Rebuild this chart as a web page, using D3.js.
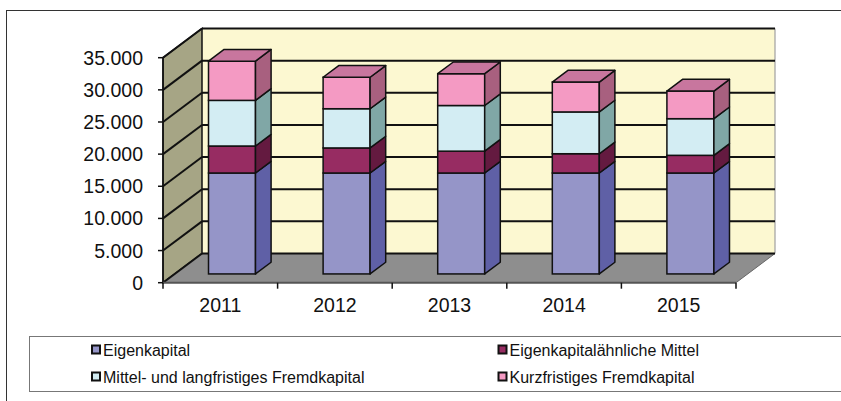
<!DOCTYPE html>
<html>
<head>
<meta charset="utf-8">
<script src="https://cdn.jsdelivr.net/npm/d3@7"></script>
<style>
  body { margin: 0; background: #fff; }
  svg { display: block; font-family: "Liberation Sans", Arial, sans-serif; }
</style>
</head>
<body>
<div id="chart"></div>
<script>
// Data
const years = ["2011", "2012", "2013", "2014", "2015"];
const seriesNames = ["Eigenkapital", "Eigenkapitalähnliche Mittel", "Mittel- und langfristiges Fremdkapital", "Kurzfristiges Fremdkapital"];
const eigenkapital = [15700, 15700, 15700, 15700, 15700];
const eigenkapitalAehnlich = [4200, 3900, 3400, 3000, 2750];
const mittelLangfristig = [7100, 6100, 7100, 6500, 5700];
const kurzfristig = [6100, 4900, 4950, 4650, 4300];
const yTicks = [0, 5000, 10000, 15000, 20000, 25000, 30000, 35000];

// Colours per series: front, side, top
const colors = [
    { front: "#9595c8", side: "#5f60a6", top: "#7a7ab8" },
    { front: "#972c62", side: "#641a40", top: "#7d2450" },
    { front: "#d3edf3", side: "#80a7a6", top: "#a9cdd0" },
    { front: "#f49ac3", side: "#a8607f", top: "#c8769e" }
];

const width = 841, height = 401;
const svg = d3.select("#chart").append("svg")
    .attr("width", width)
    .attr("height", height);

// 3D geometry
const depthX = 39, depthY = 29.2;
const barFront = 0.3, barBack = 0.7;
const proj = (x, y, f) => [x + f * depthX, y - f * depthY];

const x = d3.scaleBand()
    .domain(years)
    .range([163, 736])
    .paddingInner(0.59)
    .paddingOuter(0.295);

const y = d3.scaleLinear()
    .domain([0, 35000])
    .range([282.7, 57.7]);

const fmt = d3.formatLocale({ decimal: ",", thousands: ".", grouping: [3], currency: ["", "€"] }).format(",");

const x0 = x.range()[0], x1 = x.range()[1];
const yMin = y(0), yMax = y(35000);
const pts = arr => arr.map(p => p.join(",")).join(" ");

// Outer frame
svg.append("rect")
    .attr("x", 6.5).attr("y", 10.5)
    .attr("width", 860).attr("height", 420)
    .attr("fill", "none").attr("stroke", "#333").attr("stroke-width", 1);

// Back wall
const bw0 = proj(x0, yMax, 1), bw1 = proj(x1, yMin, 1);
svg.append("rect")
    .attr("x", bw0[0]).attr("y", bw0[1])
    .attr("width", bw1[0] - bw0[0]).attr("height", bw1[1] - bw0[1])
    .attr("fill", "#fcf8d1");
svg.append("line")
    .attr("x1", bw1[0]).attr("x2", bw1[0])
    .attr("y1", bw0[1]).attr("y2", bw1[1])
    .attr("stroke", "#a0a0a0").attr("stroke-width", 1.2);

// Left wall
svg.append("polygon")
    .attr("points", pts([[x0, yMin], [x0, yMax], proj(x0, yMax, 1), proj(x0, yMin, 1)]))
    .attr("fill", "#a6a585")
    .attr("stroke", "#111").attr("stroke-width", 1.5);

// Floor
svg.append("polygon")
    .attr("points", pts([[x0, yMin], [x1, yMin], proj(x1, yMin, 1), proj(x0, yMin, 1)]))
    .attr("fill", "#8e8e8e");
svg.append("line")
    .attr("x1", x1).attr("y1", yMin)
    .attr("x2", proj(x1, yMin, 1)[0]).attr("y2", proj(x1, yMin, 1)[1])
    .attr("stroke", "#666").attr("stroke-width", 1);

// Gridlines: back wall + left wall
const grid = svg.append("g").attr("stroke", "#111").attr("stroke-width", 2);
yTicks.forEach(t => {
    const b0 = proj(x0, y(t), 1), b1 = proj(x1, y(t), 1);
    grid.append("line")
        .attr("x1", b0[0]).attr("y1", b0[1])
        .attr("x2", b1[0]).attr("y2", b1[1]);
    grid.append("line")
        .attr("x1", x0).attr("y1", y(t))
        .attr("x2", b0[0]).attr("y2", b0[1]);
});

// Bars
const series = [eigenkapital, eigenkapitalAehnlich, mittelLangfristig, kurzfristig];
const stackData = years.map((yr, i) => {
    const row = { year: yr };
    seriesNames.forEach((s, k) => row[s] = series[k][i]);
    return row;
});
const stacked = d3.stack().keys(seriesNames)(stackData);

years.forEach((yr, i) => {
    const g = svg.append("g").attr("class", "bar");
    const bx = x(yr), bw = x.bandwidth();
    stacked.forEach((layer, k) => {
        const [v0, v1] = layer[i];
        const c = colors[k];
        const fl = proj(bx, y(v1), barFront);
        const fb = proj(bx, y(v0), barFront);
        const fw = bw;
        // front
        g.append("rect")
            .attr("x", fl[0]).attr("y", fl[1])
            .attr("width", fw).attr("height", fb[1] - fl[1])
            .attr("fill", c.front)
            .attr("stroke", "#111").attr("stroke-width", 1.5);
        // side
        const s0 = proj(bx + bw, y(v1), barFront), s1 = proj(bx + bw, y(v1), barBack);
        const s2 = proj(bx + bw, y(v0), barBack), s3 = proj(bx + bw, y(v0), barFront);
        g.append("polygon")
            .attr("points", pts([s0, s1, s2, s3]))
            .attr("fill", c.side)
            .attr("stroke", "#111").attr("stroke-width", 1.5)
            .attr("stroke-linejoin", "round");
        // top (only on the last segment)
        if (k === stacked.length - 1) {
            g.append("polygon")
                .attr("points", pts([
                    proj(bx, y(v1), barFront), proj(bx + bw, y(v1), barFront),
                    proj(bx + bw, y(v1), barBack), proj(bx, y(v1), barBack)
                ]))
                .attr("fill", c.top)
                .attr("stroke", "#111").attr("stroke-width", 1.5)
                .attr("stroke-linejoin", "round");
        }
    });
});

// Front axes
const axisG = svg.append("g").attr("stroke", "#111").attr("stroke-width", 1.5);
axisG.append("line").attr("x1", x0).attr("x2", x0).attr("y1", yMax).attr("y2", yMin);
axisG.append("line").attr("x1", x0).attr("x2", x1).attr("y1", yMin).attr("y2", yMin)
    .attr("stroke", "#555").attr("stroke-width", 2);
yTicks.forEach(t => {
    axisG.append("line").attr("x1", x0 - 5).attr("x2", x0).attr("y1", y(t)).attr("y2", y(t));
});
const bounds = years.map(yr => x(yr) - x.step() * x.paddingInner() / 2).concat([x1]);
bounds.forEach(bx => {
    axisG.append("line").attr("x1", bx).attr("x2", bx).attr("y1", yMin).attr("y2", yMin + 6);
});

// Tick labels
svg.append("g").selectAll("text")
    .data(yTicks)
    .join("text")
    .attr("x", 143)
    .attr("y", d => y(d) + 7)
    .attr("text-anchor", "end")
    .attr("font-size", "19.5px")
    .attr("fill", "#111")
    .text(d => fmt(d));

svg.append("g").selectAll("text")
    .data(years)
    .join("text")
    .attr("x", d => x(d) + x.bandwidth() / 2)
    .attr("y", 312.3)
    .attr("text-anchor", "middle")
    .attr("font-size", "19.5px")
    .attr("fill", "#111")
    .text(d => d);

// Legend
svg.append("rect")
    .attr("x", 29.5).attr("y", 336.5)
    .attr("width", 860).attr("height", 55)
    .attr("fill", "#fff")
    .attr("stroke", "#777").attr("stroke-width", 1);

const legendPos = [[91, 356], [497.5, 356], [91, 383], [497.5, 383]];
const legend = svg.append("g").selectAll("g")
    .data(seriesNames)
    .join("g")
    .attr("transform", (d, i) => `translate(${legendPos[i][0]},${legendPos[i][1]})`);
legend.append("rect")
    .attr("x", 1).attr("y", -10.5)
    .attr("width", 8).attr("height", 8)
    .attr("fill", (d, i) => colors[i].front)
    .attr("stroke", "#111").attr("stroke-width", 2);
legend.append("text")
    .attr("x", 12)
    .attr("y", 0)
    .attr("font-size", "16px")
    .attr("fill", "#111")
    .text(d => d);
</script>
</body>
</html>
